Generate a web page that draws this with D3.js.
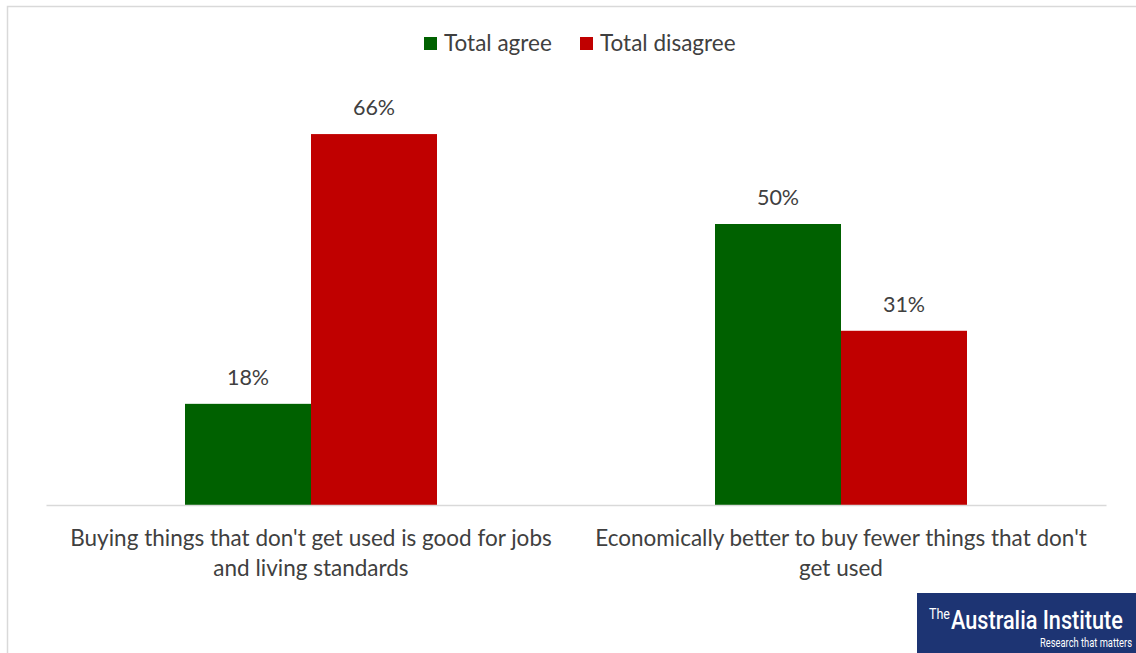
<!DOCTYPE html>
<html>
<head>
<meta charset="utf-8">
<script src="https://cdn.jsdelivr.net/npm/d3@7"></script>
<style>
  html, body { margin: 0; padding: 0; background: #fff; }
  svg { display: block; }
</style>
</head>
<body>
<svg id="chart" width="1136" height="653"></svg>
<script>
const categories = [
  "Buying things that don't get used is good for jobs and living standards",
  "Economically better to buy fewer things that don't get used"
];
const seriesNames = ["Total agree", "Total disagree"];
const agreeValues = [18, 50];
const disagreeValues = [66, 31];
const seriesColors = ["#006100", "#C00000"];

const W = 1136, H = 653;
const svg = d3.select("#chart");
const FONT = "Lato, 'Open Sans', sans-serif";
const TXT = "#404040";

// outer frame (top and left edges visible)
svg.append("path").attr("d", `M7.5,${H} V6.5 H${W}`)
  .attr("fill", "none").attr("stroke", "#d9d9d9").attr("stroke-width", 1.5);

const plot = { left: 46, right: 1106, top: 113, bottom: 505 };

const x0 = d3.scaleBand().domain(categories).range([plot.left, plot.right]).paddingInner(0).paddingOuter(0);
const x1 = d3.scaleBand().domain(seriesNames).range([0, 252]);
const y = d3.scaleLinear().domain([0, 70]).range([plot.bottom, plot.bottom - 70 * 5.62]);

const data = categories.map((c, i) => ({
  cat: c,
  vals: [ { s: seriesNames[0], v: agreeValues[i], col: seriesColors[0] },
          { s: seriesNames[1], v: disagreeValues[i], col: seriesColors[1] } ]
}));

const groups = svg.selectAll("g.grp").data(data).join("g")
  .attr("class", "grp")
  .attr("transform", d => `translate(${x0(d.cat) + x0.bandwidth() / 2 - 126},0)`);

groups.selectAll("rect").data(d => d.vals).join("rect")
  .attr("x", d => x1(d.s))
  .attr("width", x1.bandwidth())
  .attr("y", d => y(d.v))
  .attr("height", d => y(0) - y(d.v))
  .attr("fill", d => d.col);

groups.selectAll("text.val").data(d => d.vals).join("text")
  .attr("class", "val")
  .attr("x", d => x1(d.s) + x1.bandwidth() / 2)
  .attr("y", d => y(d.v) - 19)
  .attr("text-anchor", "middle")
  .attr("font-family", FONT).attr("font-size", 21.5).attr("fill", TXT)
  .text(d => d.v + "%");

// baseline axis
const axis = d3.axisBottom(x0).tickSize(0).tickFormat("");
const ax = svg.append("g").attr("transform", `translate(0,${plot.bottom})`).call(axis);
ax.select(".domain").attr("stroke", "#d9d9d9").attr("stroke-width", 1.5);

// category labels (wrapped)
const CAT_SIZE = 22.5;
function wrapLines(text, maxW, size) {
  const tmp = svg.append("text").attr("font-family", FONT).attr("font-size", size);
  const words = text.split(" ");
  const lines = [];
  let cur = "";
  words.forEach(w => {
    const test = cur ? cur + " " + w : w;
    tmp.text(test);
    if (tmp.node().getComputedTextLength() > maxW && cur) { lines.push(cur); cur = w; }
    else cur = test;
  });
  if (cur) lines.push(cur);
  tmp.remove();
  return lines;
}
categories.forEach(c => {
  const lines = wrapLines(c, 520, CAT_SIZE);
  const t = svg.append("text")
    .attr("text-anchor", "middle")
    .attr("font-family", FONT).attr("font-size", CAT_SIZE).attr("fill", TXT);
  lines.forEach((l, i) => {
    t.append("tspan").attr("x", x0(c) + x0.bandwidth() / 2).attr("y", 546 + i * 30).text(l);
  });
});

// legend
const legendItems = [
  { name: seriesNames[0], col: seriesColors[0], x: 424 },
  { name: seriesNames[1], col: seriesColors[1], x: 580 }
];
const lg = svg.append("g");
legendItems.forEach(it => {
  lg.append("rect").attr("x", it.x).attr("y", 37).attr("width", 13).attr("height", 13).attr("fill", it.col);
  lg.append("text").attr("x", it.x + 20).attr("y", 51)
    .attr("font-family", FONT).attr("font-size", 22.5).attr("fill", TXT).text(it.name);
});

// logo (condensed text via horizontal scaling)
const logo = svg.append("g");
logo.append("rect").attr("x", 917).attr("y", 593).attr("width", W - 917).attr("height", H - 593).attr("fill", "#1d3473");
function condensed(str, x, yb, size, weight, targetW) {
  const t = logo.append("text")
    .attr("font-family", "Roboto, sans-serif").attr("font-size", size)
    .attr("font-weight", weight).attr("fill", "#fff").text(str);
  const w = t.node().getComputedTextLength();
  const k = targetW / w;
  t.attr("transform", `translate(${x},${yb}) scale(${k},1)`);
}
condensed("The", 929, 619, 14, 400, 21);
condensed("Australia Institute", 951, 629, 26, 500, 172);
condensed("Research that matters", 1040, 647, 12, 400, 92);
</script>
</body>
</html>
